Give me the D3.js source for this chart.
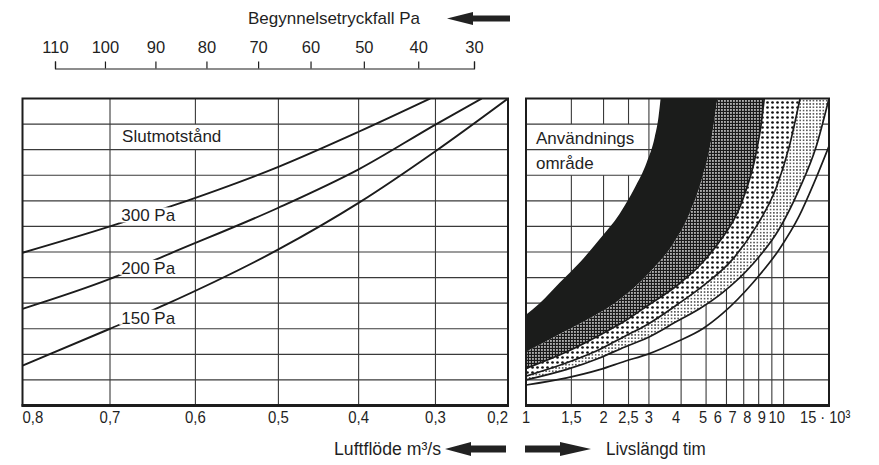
<!DOCTYPE html>
<html>
<head>
<meta charset="utf-8">
<script src="https://cdn.jsdelivr.net/npm/d3@7"></script>
<style>
  body { margin: 0; background: #fff; }
  text { font-family: "Liberation Sans", Arial, Helvetica, sans-serif; fill: #1f1f1f; }
</style>
</head>
<body>
<svg id="chart" width="879" height="465"></svg>
<script>
// Filter nomogram: initial pressure drop / air flow (left), service life (right)

// ---- axes ----
const pressureTicks = [110, 100, 90, 80, 70, 60, 50, 40, 30];
const flowTicks = [0.8, 0.7, 0.6, 0.5, 0.4, 0.3, 0.2];
const flowLabels = ["0,8", "0,7", "0,6", "0,5", "0,4", "0,3", "0,2"];
const lifeTicks = [1, 1.5, 2, 2.5, 3, 4, 5, 6, 7, 8, 9, 10, 15];
const lifeLabels = ["1", "1,5", "2", "2,5", "3", "4", "5", "6", "7", "8", "9", "10", "15 · 10³"];
const rowCount = 12;

// ---- final resistance curves: [air flow m³/s, grid row] ----
const resistanceNames = ["300 Pa", "200 Pa", "150 Pa"];
const curve300 = [[0.8, 5.97], [0.7, 7.0], [0.626, 7.82], [0.5, 9.33], [0.4, 10.7], [0.307, 12]];
const curve200 = [[0.8, 3.78], [0.7, 4.95], [0.63, 5.94], [0.5, 7.73], [0.4, 9.23], [0.3, 10.98], [0.237, 12]];
const curve150 = [[0.8, 1.56], [0.7, 3.0], [0.635, 3.95], [0.5, 6.1], [0.4, 7.92], [0.3, 9.94], [0.2, 12]];

// ---- application area boundaries: [life ·10³ h, grid row] ----
const edge1 = [[1, 3.55], [1.13, 4.0], [1.35, 4.8], [1.62, 5.6], [1.93, 6.5], [2.31, 7.5], [2.64, 8.5], [2.94, 9.5], [3.16, 10.5], [3.27, 11.3], [3.33, 12]];
const edge2 = [[1, 2.1], [1.3, 2.7], [1.69, 3.3], [2.21, 4.0], [3.02, 5.2], [3.77, 6.4], [4.31, 7.5], [4.8, 8.8], [5.24, 10.4], [5.53, 12]];
const edge3 = [[1, 1.45], [1.44, 2.1], [1.93, 2.75], [2.42, 3.3], [2.96, 3.9], [3.87, 4.7], [4.75, 5.5], [5.63, 6.4], [6.85, 7.9], [7.83, 9.9], [8.18, 11.0], [8.41, 12]];
const edge4 = [[1, 1.15], [1.44, 1.67], [1.93, 2.19], [2.42, 2.71], [2.96, 3.17], [3.87, 3.95], [4.75, 4.6], [6.32, 5.7], [7.83, 7.0], [9.35, 8.5], [10.5, 10.1], [11.58, 12]];
const edge5 = [[1, 1.0], [1.44, 1.41], [1.93, 1.86], [2.42, 2.29], [2.96, 2.65], [3.87, 3.3], [4.75, 3.8], [5.78, 4.4], [7.55, 5.5], [9.61, 6.9], [11.48, 8.44], [13.36, 10.1], [15, 12]];
const edge6 = [[1, 0.8], [1.44, 1.08], [1.93, 1.4], [2.42, 1.73], [2.96, 2.0], [3.87, 2.5], [4.85, 3.0], [5.8, 3.6], [7.6, 4.8], [9.61, 6.1], [11.48, 7.4], [13.12, 8.7], [15, 10.14]];

const svg = d3.select("#chart");
const ink = "#1c1c1c";
const gridInk = "#3a3a3a";

// ---- scales ----
const left = { x0: 22.5, x1: 508 };
const right = { x0: 526, x1: 829 };
const y = d3.scaleLinear().domain([0, rowCount]).range([405.5, 98.5]);
const xFlow = d3.scalePow().exponent(1.17).domain([0.8, 0.2]).range([left.x0, left.x1]);
const xPressure = d3.scalePow().exponent(0.9).domain([110, 30]).range([55, 474]);
const xLife = d3.scaleLog().domain([1, 15]).range([right.x0, right.x1]);
const rows = d3.range(1, rowCount);

// condensed lettering: text anchored at (x, y), squeezed horizontally
function condensed(sel, x, y, sx) {
  return sel.attr("transform", (d, i) => {
    const xx = typeof x === "function" ? x(d, i) : x;
    return `translate(${xx},${y}) scale(${sx},1)`;
  });
}

// ---- fill patterns ----
const defs = svg.append("defs");
const cross = defs.append("pattern").attr("id", "crossHatch")
  .attr("patternUnits", "userSpaceOnUse").attr("width", 3).attr("height", 3);
cross.append("rect").attr("width", 3).attr("height", 3).attr("fill", "#1a1a1a");
cross.append("rect").attr("x", 1.2).attr("y", 1.2).attr("width", 1.5).attr("height", 1.5).attr("fill", "#fff");

const bigDots = defs.append("pattern").attr("id", "bigDots")
  .attr("patternUnits", "userSpaceOnUse").attr("width", 5).attr("height", 5);
bigDots.append("rect").attr("width", 5).attr("height", 5).attr("fill", "#fff");
bigDots.append("circle").attr("cx", 2.5).attr("cy", 2.5).attr("r", 1.35).attr("fill", "#111");

const smallDots = defs.append("pattern").attr("id", "smallDots")
  .attr("patternUnits", "userSpaceOnUse").attr("width", 3.3).attr("height", 3.3);
smallDots.append("rect").attr("width", 3.3).attr("height", 3.3).attr("fill", "#fff");
smallDots.append("circle").attr("cx", 1.65).attr("cy", 1.65).attr("r", 0.8).attr("fill", "#222");

defs.append("clipPath").attr("id", "clipLeft").append("rect")
  .attr("x", left.x0).attr("y", y(rowCount)).attr("width", left.x1 - left.x0).attr("height", y(0) - y(rowCount));
defs.append("clipPath").attr("id", "clipRight").append("rect")
  .attr("x", right.x0).attr("y", y(rowCount)).attr("width", right.x1 - right.x0).attr("height", y(0) - y(rowCount));

// ---- top axis: initial pressure drop ----
const topAxis = svg.append("g").attr("transform", "translate(0,68.5)")
  .call(d3.axisTop(xPressure).tickValues(pressureTicks).tickSize(7).tickSizeOuter(7).tickPadding(8.5).tickFormat(d3.format("d")));
topAxis.selectAll("path, line").attr("stroke", ink).attr("stroke-width", 1.2);
topAxis.selectAll("text").attr("font-size", 16.5).attr("fill", null);
topAxis.attr("font-family", null);

svg.append("text").attr("x", 420).attr("y", 24).attr("text-anchor", "end")
  .attr("font-size", 17).text("Begynnelsetryckfall Pa");

function arrow(tipX, baseX, endX, cy, headHalf, shaftHalf) {
  const pts = [[tipX, cy], [baseX, cy - headHalf], [baseX, cy - shaftHalf], [endX, cy - shaftHalf],
               [endX, cy + shaftHalf], [baseX, cy + shaftHalf], [baseX, cy + headHalf]];
  svg.append("path").attr("d", d3.line()(pts) + "Z").attr("fill", "#222");
}
arrow(447, 473, 510, 18.5, 6.5, 3);

// ---- left panel: flow vs final resistance ----
const gL = svg.append("g");
gL.append("rect").attr("x", left.x0).attr("y", y(rowCount)).attr("width", left.x1 - left.x0)
  .attr("height", y(0) - y(rowCount)).attr("fill", "#fff");
gL.selectAll("line.vgrid").data(flowTicks.slice(1, -1)).join("line")
  .attr("x1", d => xFlow(d)).attr("x2", d => xFlow(d))
  .attr("y1", y(rowCount)).attr("y2", y(0))
  .attr("stroke", gridInk).attr("stroke-width", 1.1);

// "Slutmotstånd" sits in a cleared cell band
const slutBox = gL.append("rect");
const gridL = gL.append("g");
const slut = gL.append("text").attr("x", xFlow(0.686)).attr("y", y(10) - 7.5)
  .attr("font-size", 17).text("Slutmotstånd");
const sb = slut.node().getBBox();
slutBox.attr("x", sb.x - 3).attr("y", y(11)).attr("width", sb.width + 6)
  .attr("height", y(10) - y(11)).attr("fill", "#fff");
gridL.selectAll("line").data(rows).join("line")
  .attr("x1", left.x0).attr("x2", left.x1)
  .attr("y1", d => y(d)).attr("y2", d => y(d))
  .attr("stroke", gridInk).attr("stroke-width", 1.1);

const lineFlow = d3.line().x(d => xFlow(d[0])).y(d => y(d[1])).curve(d3.curveMonotoneX);
const curves = [curve300, curve200, curve150];
gL.append("g").attr("clip-path", "url(#clipLeft)")
  .selectAll("path").data(curves).join("path")
  .attr("d", lineFlow).attr("fill", "none").attr("stroke", ink).attr("stroke-width", 1.9);

// curve labels interrupt their curves
resistanceNames.forEach((name, i) => {
  const t = gL.append("text").attr("x", xFlow(0.687)).attr("y", y(curves[i][1][1]) - 5)
    .attr("font-size", 17).text(name);
  const b = t.node().getBBox();
  gL.insert("rect", () => t.node()).attr("x", b.x - 2).attr("y", b.y + 1)
    .attr("width", b.width + 4).attr("height", b.height - 4).attr("fill", "#fff");
});

gL.append("rect").attr("x", left.x0).attr("y", y(rowCount)).attr("width", left.x1 - left.x0)
  .attr("height", y(0) - y(rowCount)).attr("fill", "none").attr("stroke", ink).attr("stroke-width", 2);
gL.append("line").attr("x1", left.x0 - 1).attr("x2", left.x1 + 1).attr("y1", y(0)).attr("y2", y(0))
  .attr("stroke", ink).attr("stroke-width", 3);

// bottom axis labels for air flow
svg.append("g").selectAll("text").data(flowTicks).join("text")
  .attr("text-anchor", (d, i) => i === 0 ? "start" : (i === flowTicks.length - 1 ? "end" : "middle"))
  .attr("font-size", 17).text((d, i) => flowLabels[i])
  .call(condensed, d => xFlow(d), 423, 0.88);

// ---- right panel: service life ----
const gR = svg.append("g");
gR.append("rect").attr("x", right.x0).attr("y", y(rowCount)).attr("width", right.x1 - right.x0)
  .attr("height", y(0) - y(rowCount)).attr("fill", "#fff");
gR.selectAll("line.vgrid").data(lifeTicks.slice(1, -1)).join("line")
  .attr("x1", d => xLife(d)).attr("x2", d => xLife(d))
  .attr("y1", y(rowCount)).attr("y2", y(0))
  .attr("stroke", gridInk).attr("stroke-width", 1.1);

const usageBox = gR.append("rect");
const gridR = gR.append("g");
const lineLife = d3.line().x(d => xLife(d[0])).y(d => y(d[1])).curve(d3.curveMonotoneX);
function band(upper, lower) {
  const a = lineLife(upper);
  const b = lineLife(lower.slice().reverse());
  return a + "L" + b.slice(1) + "Z";
}
const bands = [
  { upper: edge1, lower: edge2, fill: "#1b1c1b" },
  { upper: edge2, lower: edge3, fill: "url(#crossHatch)" },
  { upper: edge3, lower: edge4, fill: "url(#bigDots)" },
  { upper: edge4, lower: edge5, fill: "url(#smallDots)" }
];
const gBands = gR.append("g").attr("clip-path", "url(#clipRight)");
gBands.selectAll("path.band").data(bands).join("path").attr("class", "band")
  .attr("d", d => band(d.upper, d.lower)).attr("fill", d => d.fill);
gBands.selectAll("path.edge").data([edge3, edge4, edge5, edge6]).join("path").attr("class", "edge")
  .attr("d", lineLife).attr("fill", "none").attr("stroke", ink).attr("stroke-width", 1.7);

gR.append("rect").attr("x", right.x0).attr("y", y(rowCount)).attr("width", right.x1 - right.x0)
  .attr("height", y(0) - y(rowCount)).attr("fill", "none").attr("stroke", ink).attr("stroke-width", 2);
gR.append("line").attr("x1", right.x0 - 1).attr("x2", right.x1 + 1).attr("y1", y(0)).attr("y2", y(0))
  .attr("stroke", ink).attr("stroke-width", 3);

const usage1 = gR.append("text").attr("x", right.x0 + 10).attr("y", y(10) - 6).attr("font-size", 17).text("Användnings");
gR.append("text").attr("x", right.x0 + 10).attr("y", y(9) - 6.5).attr("font-size", 17).text("område");
const ub = usage1.node().getBBox();
usageBox.attr("x", right.x0).attr("y", y(11))
  .attr("width", ub.x + ub.width + 5 - right.x0).attr("height", y(9) - y(11)).attr("fill", "#fff");
gridR.selectAll("line").data(rows).join("line")
  .attr("x1", right.x0).attr("x2", right.x1)
  .attr("y1", d => y(d)).attr("y2", d => y(d))
  .attr("stroke", gridInk).attr("stroke-width", 1.1);

// bottom axis labels for service life: the crowded 5–10 run is set evenly spaced
const runStart = xLife(5) - 3, runEnd = xLife(10) - 7;
const runTicks = lifeTicks.filter(d => d >= 5 && d <= 10);
svg.append("g").selectAll("text").data(lifeTicks).join("text")
  .attr("text-anchor", (d, i) => i === lifeTicks.length - 1 ? "start" : "middle")
  .attr("font-size", 17).text((d, i) => lifeLabels[i])
  .call(condensed, (d, i) => {
    if (i === lifeTicks.length - 1) return xLife(d) - 29;
    const k = runTicks.indexOf(d);
    if (k >= 0) return runStart + k * (runEnd - runStart) / (runTicks.length - 1);
    return d === 4 ? xLife(d) - 5 : xLife(d);
  }, 423, 0.86);

// ---- axis titles with direction arrows ----
svg.append("text").attr("text-anchor", "end").attr("font-size", 19).text("Luftflöde m³/s")
  .call(condensed, 441, 455, 0.93);
arrow(445, 471, 506, 449, 7, 3.5);
arrow(591, 560, 525, 449, 7, 3.5);
svg.append("text").attr("font-size", 19).text("Livslängd tim")
  .call(condensed, 606, 455, 0.9);
</script>
</body>
</html>
